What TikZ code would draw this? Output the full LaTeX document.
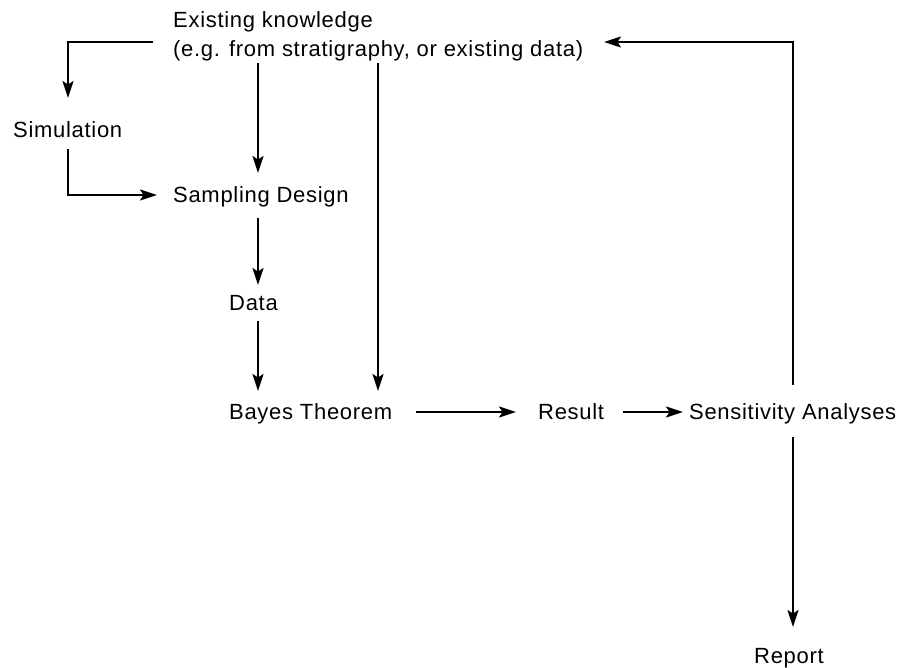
\documentclass[tikz,border=0pt]{standalone}
\usepackage{fontspec}
\setmainfont[LetterSpace=3.2]{Liberation Sans}
\usetikzlibrary{arrows.meta}
\begin{document}
\begin{tikzpicture}[x=1pt,y=-1pt,
  lbl/.style={inner sep=0pt,font=\fontsize{22}{29}\selectfont},
  arr/.style={-{Stealth[length=17pt,width=11pt,inset=3.5pt]},line width=2pt,black}]
\useasboundingbox (0,0) rectangle (900,668);
% nodes
\node[lbl,anchor=north west,align=left] (know) at (173,11) {Existing knowledge\\(e.g. from stratigraphy, or existing data)};
\node[lbl,anchor=base west] (sim) at (13,138) {Simulation};
\node[lbl,anchor=base west] (samp) at (173,203) {Sampling Design};
\node[lbl,anchor=base west] (data) at (229,311) {Data};
\node[lbl,anchor=base west] (bayes) at (229,420) {Bayes Theorem};
\node[lbl,anchor=base west] (result) at (538,420) {Result};
\node[lbl,anchor=base west] (sens) at (689,420) {Sensitivity Analyses};
\node[lbl,anchor=base west] (report) at (754,663) {Report};
% connector end points
\coordinate (kL) at (153,42);
\coordinate (kS) at (258,63);
\coordinate (kB) at (378,63);
\coordinate (kR) at (604,42);
\coordinate (simT) at (68,98);
\coordinate (simB) at (68,149);
\coordinate (sampL) at (157,195);
\coordinate (sampT) at (258,173);
\coordinate (sampB) at (258,218);
\coordinate (dataT) at (258,285);
\coordinate (dataB) at (258,321);
\coordinate (bayesT) at (258,391);
\coordinate (bayesT2) at (378,391);
\coordinate (bayesR) at (416,412);
\coordinate (resL) at (516,412);
\coordinate (resR) at (623,412);
\coordinate (sensL) at (683,412);
\coordinate (sensT) at (793,385);
\coordinate (sensB) at (793,437);
\coordinate (repT) at (793,627);
% connectors
\draw[arr] (kL) -| (simT);
\draw[arr] (simB) |- (sampL);
\draw[arr] (kS) -- (sampT);
\draw[arr] (sampB) -- (dataT);
\draw[arr] (dataB) -- (bayesT);
\draw[arr] (kB) -- (bayesT2);
\draw[arr] (bayesR) -- (resL);
\draw[arr] (resR) -- (sensL);
\draw[arr] (sensT) |- (kR);
\draw[arr] (sensB) -- (repT);
\end{tikzpicture}
\end{document}
